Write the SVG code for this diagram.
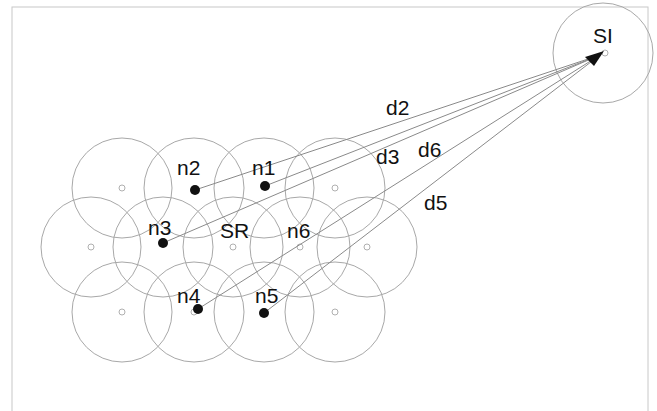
<svg xmlns="http://www.w3.org/2000/svg" width="657" height="411" viewBox="0 0 657 411">
  <style>
    .cell { fill: none; stroke: #a8a8a8; stroke-width: 1; }
    .hub { fill: none; stroke: #b0b0b0; stroke-width: 1; }
    .node { fill: #111; }
    .link { stroke: #8a8a8a; stroke-width: 1; fill: none; }
    .lbl { font-family: "Liberation Sans", Arial, sans-serif; font-size: 21px; fill: #111; }
  </style>
  <rect width="657" height="411" fill="#ffffff"/>
  <!-- outer frame, open at the bottom -->
  <rect x="12" y="7" width="636" height="420" fill="none" stroke="#c8c8c8" stroke-width="1"/>

  <!-- coverage cells -->
  <g id="cells">
    <circle class="cell" cx="122" cy="188" r="50"/>
    <circle class="cell" cx="194" cy="188" r="50"/>
    <circle class="cell" cx="264" cy="188" r="50"/>
    <circle class="cell" cx="335" cy="188" r="50"/>
    <circle class="cell" cx="91" cy="247" r="50"/>
    <circle class="cell" cx="163" cy="247" r="50"/>
    <circle class="cell" cx="233" cy="247" r="50"/>
    <circle class="cell" cx="300" cy="247" r="50"/>
    <circle class="cell" cx="367" cy="247" r="50"/>
    <circle class="cell" cx="122" cy="312" r="50"/>
    <circle class="cell" cx="194" cy="312" r="50"/>
    <circle class="cell" cx="264" cy="312" r="50"/>
    <circle class="cell" cx="335" cy="312" r="50"/>
    <!-- cell centres -->
    <circle class="hub" cx="122" cy="188" r="3"/>
    <circle class="hub" cx="335" cy="188" r="3"/>
    <circle class="hub" cx="91" cy="247" r="3"/>
    <circle class="hub" cx="233" cy="247" r="3"/>
    <circle class="hub" cx="300" cy="247" r="3"/>
    <circle class="hub" cx="367" cy="247" r="3"/>
    <circle class="hub" cx="122" cy="312" r="3"/>
    <circle class="hub" cx="194" cy="312" r="3"/>
    <circle class="hub" cx="335" cy="312" r="3"/>
  </g>

  <!-- SI cell -->
  <g id="SI">
    <circle class="cell" cx="603" cy="53" r="50"/>
    <circle class="hub" cx="605" cy="53" r="3"/>
    <text class="lbl" x="593" y="43">SI</text>
  </g>

  <!-- connectors -->
  <g id="connectors">
    <line class="link" x1="195" y1="190" x2="600" y2="55"/>
    <line class="link" x1="265" y1="186" x2="600" y2="55"/>
    <line class="link" x1="163" y1="243" x2="600" y2="55"/>
    <line class="link" x1="198" y1="309" x2="600" y2="55"/>
    <line class="link" x1="264" y1="313" x2="600" y2="55"/>
    <polygon points="604,51 585,57 594,66" fill="#111"/>
    <text class="lbl" x="386" y="115">d2</text>
    <text class="lbl" x="376" y="164">d3</text>
    <text class="lbl" x="418" y="157">d6</text>
    <text class="lbl" x="424" y="210">d5</text>
  </g>

  <g id="n1"><circle class="node" cx="265" cy="186" r="5"/><text class="lbl" x="252" y="175">n1</text></g>
  <g id="n2"><circle class="node" cx="195" cy="190" r="5"/><text class="lbl" x="177" y="175">n2</text></g>
  <g id="n3"><circle class="node" cx="163" cy="243" r="5"/><text class="lbl" x="148" y="235">n3</text></g>
  <g id="n4"><circle class="node" cx="198" cy="309" r="5"/><text class="lbl" x="177" y="303">n4</text></g>
  <g id="n5"><circle class="node" cx="264" cy="313" r="5"/><text class="lbl" x="255" y="303">n5</text></g>
  <g id="SR"><text class="lbl" x="220" y="238">SR</text></g>
  <g id="n6"><text class="lbl" x="287" y="238">n6</text></g>
</svg>
